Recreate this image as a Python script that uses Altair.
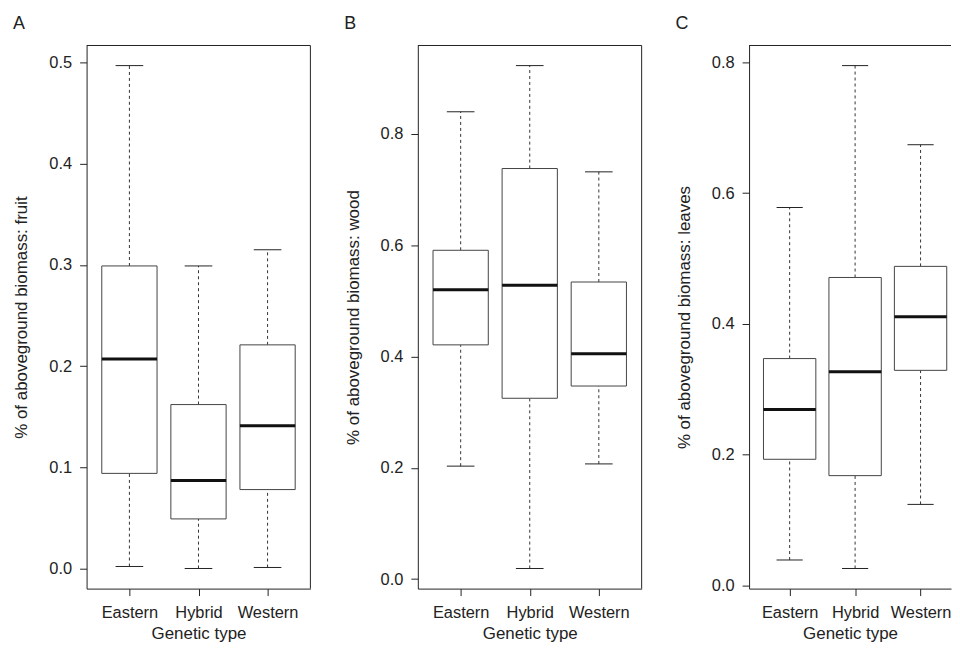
import altair as alt
import pandas as pd

# ---- data ----
groups = ["Eastern", "Hybrid", "Western"]
positions = [1, 2, 3]

fruit_min = [0.002, 0.000, 0.001]
fruit_q1 = [0.094, 0.049, 0.078]
fruit_med = [0.207, 0.087, 0.141]
fruit_q3 = [0.299, 0.162, 0.221]
fruit_max = [0.497, 0.299, 0.315]

wood_min = [0.203, 0.019, 0.207]
wood_q1 = [0.421, 0.325, 0.347]
wood_med = [0.520, 0.528, 0.405]
wood_q3 = [0.591, 0.738, 0.534]
wood_max = [0.840, 0.923, 0.732]

leaves_min = [0.039, 0.026, 0.124]
leaves_q1 = [0.193, 0.168, 0.329]
leaves_med = [0.269, 0.327, 0.411]
leaves_q3 = [0.347, 0.471, 0.488]
leaves_max = [0.578, 0.795, 0.674]

ticks_fruit = [0.0, 0.1, 0.2, 0.3, 0.4, 0.5]
ticks_wood = [0.0, 0.2, 0.4, 0.6, 0.8]
ticks_leaves = [0.0, 0.2, 0.4, 0.6, 0.8]

FONT = "Liberation Sans"
INK = "#222222"
PLOT_H = 546
PLOT_W = 225
PX_PER_UNIT = PLOT_W / 3.24

label_expr = " : ".join(
    [f"datum.value == {p} ? '{g}'" for p, g in zip(positions[:-1], groups[:-1])]
) + f" : '{groups[-1]}'"

frame_df = pd.DataFrame({"k": [0]})


def panel(letter, ytitle, mins, q1s, meds, q3s, maxs, yticks, width, px_per_unit,
          right_frame):
    df = pd.DataFrame({
        "group": groups, "pos": positions,
        "lo": mins, "q1": q1s, "med": meds, "q3": q3s, "hi": maxs,
    })
    lo_all, hi_all = min(mins), max(maxs)
    pad = (hi_all - lo_all) * 0.04
    ydom = [lo_all - pad, hi_all + pad]
    xdom = [0.38, 0.38 + width / px_per_unit]

    xscale = alt.Scale(domain=xdom, nice=False, zero=False)
    yscale = alt.Scale(domain=ydom, nice=False, zero=False)
    xaxis = alt.Axis(
        title="Genetic type", values=positions, labelExpr=label_expr,
        grid=False, domain=True, domainColor=INK, tickColor=INK, tickSize=7,
        labelPadding=9, labelFontSize=16.5, labelColor=INK, labelFont=FONT,
        titleFontSize=17, titleFont=FONT, titleColor=INK, titleFontWeight="normal",
        titlePadding=5,
    )
    yaxis = alt.Axis(
        title=ytitle, values=yticks, format=".1f", grid=False, domain=True,
        domainColor=INK, tickColor=INK, tickSize=7, labelPadding=8,
        labelFontSize=16.5, labelColor=INK, labelFont=FONT,
        titleFontSize=17, titleFont=FONT, titleColor=INK, titleFontWeight="normal",
        titlePadding=18,
    )

    def X(field):
        return alt.X(f"{field}:Q", scale=xscale, axis=xaxis)

    def Y(field):
        return alt.Y(f"{field}:Q", scale=yscale, axis=yaxis)

    base = alt.Chart(df).transform_calculate(
        left="datum.pos - 0.4", right="datum.pos + 0.4",
        capl="datum.pos - 0.2", capr="datum.pos + 0.2",
    )
    whisk_lo = base.mark_rule(color="#333333", strokeDash=[3, 3], strokeWidth=1).encode(
        x=X("pos"), y=Y("lo"), y2="q1:Q")
    whisk_hi = base.mark_rule(color="#333333", strokeDash=[3, 3], strokeWidth=1).encode(
        x=X("pos"), y=Y("q3"), y2="hi:Q")
    cap_lo = base.mark_rule(color="#222222", strokeWidth=1).encode(
        x=X("capl"), x2="capr:Q", y=Y("lo"))
    cap_hi = base.mark_rule(color="#222222", strokeWidth=1).encode(
        x=X("capl"), x2="capr:Q", y=Y("hi"))
    box = base.mark_rect(fill="white", stroke="#444444", strokeWidth=1).encode(
        x=X("left"), x2="right:Q", y=Y("q1"), y2="q3:Q")
    median = base.mark_rule(color="#111111", strokeWidth=3).encode(
        x=X("left"), x2="right:Q", y=Y("med"))

    frame_top = alt.Chart(frame_df).mark_rule(color=INK, strokeWidth=1).encode(
        x=alt.value(0), x2=alt.value(width), y=alt.value(0))
    layers = [frame_top, whisk_lo, whisk_hi, cap_lo, cap_hi, box, median]
    if right_frame:
        frame_right = alt.Chart(frame_df).mark_rule(color=INK, strokeWidth=1).encode(
            x=alt.value(width), y=alt.value(0), y2=alt.value(PLOT_H))
        layers.insert(1, frame_right)

    return alt.layer(*layers).properties(
        width=width, height=PLOT_H,
        title=alt.TitleParams(
            text=letter, anchor="start", frame="bounds", fontSize=18,
            font=FONT, fontWeight="normal", color=INK, offset=12,
        ),
    )


pa = panel("A", "% of aboveground biomass: fruit", fruit_min, fruit_q1, fruit_med,
           fruit_q3, fruit_max, ticks_fruit, PLOT_W, PX_PER_UNIT, True)
pb = panel("B", "% of aboveground biomass: wood", wood_min, wood_q1, wood_med,
           wood_q3, wood_max, ticks_wood, PLOT_W, PX_PER_UNIT, True)
# panel C runs off the right edge of the page in the original
pc = panel("C", "% of aboveground biomass: leaves", leaves_min, leaves_q1, leaves_med,
           leaves_q3, leaves_max, ticks_leaves, 203, 65.8, False)

chart = alt.hconcat(pa, pb, pc, spacing=33).properties(
    padding={"left": 5, "top": 5, "right": 0, "bottom": 0},
    background="white",
).configure_view(strokeWidth=0)

chart.save("out.html", embed_options={"renderer": "svg", "actions": False})
